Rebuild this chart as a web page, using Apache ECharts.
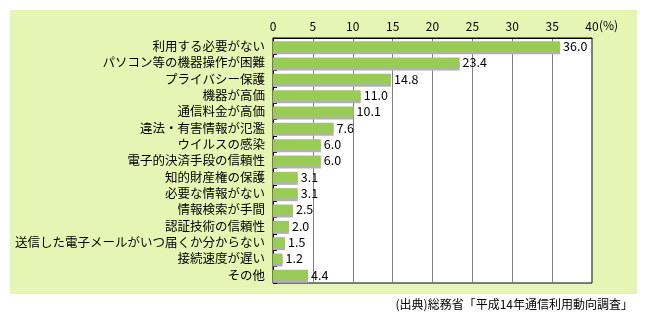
<!DOCTYPE html>
<html><head><meta charset="utf-8">
<script src="https://cdn.jsdelivr.net/npm/echarts@6/dist/echarts.min.js"></script>
<style>html,body{margin:0;padding:0;background:#fff}#c{width:647px;height:325px}</style>
</head><body><div id="c"></div>
<script>
const categories = ['利用する必要がない','パソコン等の機器操作が困難','プライバシー保護','機器が高価','通信料金が高価','違法・有害情報が氾濫','ウイルスの感染','電子的決済手段の信頼性','知的財産権の保護','必要な情報がない','情報検索が手間','認証技術の信頼性','送信した電子メールがいつ届くか分からない','接続速度が遅い','その他'];
const values = [36.0, 23.4, 14.8, 11.0, 10.1, 7.6, 6.0, 6.0, 3.1, 3.1, 2.5, 2.0, 1.5, 1.2, 4.4];
const axisMin = 0, axisMax = 40, axisStep = 5;
const unitLabel = '(%)';
const sourceNote = '(出典)総務省「平成14年通信利用動向調査」';

const font = '"Noto Sans CJK JP", "Noto Sans", sans-serif';
const chart = echarts.init(document.getElementById('c'), null, {renderer:'canvas'});
chart.setOption({
  animation: false,
  textStyle: {fontFamily: font},
  graphic: [
    {type:'rect', z:-10, shape:{x:10,y:10,width:627,height:284}, style:{fill:'#e5f5b3'}},
    {type:'text', left: 599, top: 19, style:{text: unitLabel, font:'12px '+font, fill:'#000'}},
    {type:'text', right: 14, top: 298, style:{text: sourceNote, font:'12px '+font, fill:'#000'}}
  ],
  grid: {left:273, right:55, top:38, bottom:42, show:true, backgroundColor:'#fff', borderColor:'#000', borderWidth:1},
  xAxis: {
    type:'value', position:'top', min:axisMin, max:axisMax, interval:axisStep,
    axisLine:{show:true, lineStyle:{color:'#000'}},
    axisTick:{show:false},
    splitLine:{show:true, lineStyle:{color:'#808080', width:1}},
    axisLabel:{color:'#000', fontSize:12, margin:6, fontFamily:font}
  },
  yAxis: {
    type:'category', data:categories, inverse:true,
    axisLine:{show:true, lineStyle:{color:'#000'}},
    axisTick:{show:true, inside:true, length:4, lineStyle:{color:'#000'}},
    axisLabel:{color:'#000', fontSize:12.5, margin:8, fontFamily:font}
  },
  series: [{
    type:'bar', data:values, barWidth:10,
    itemStyle:{color:'#99cc55', shadowColor:'#b0b0b0', shadowBlur:0, shadowOffsetX:0, shadowOffsetY:3},
    label:{show:true, position:'right', distance:3, color:'#000', fontSize:12.5, fontFamily:font,
      formatter: p => p.value.toFixed(1)}
  }]
});
</script></body></html>
